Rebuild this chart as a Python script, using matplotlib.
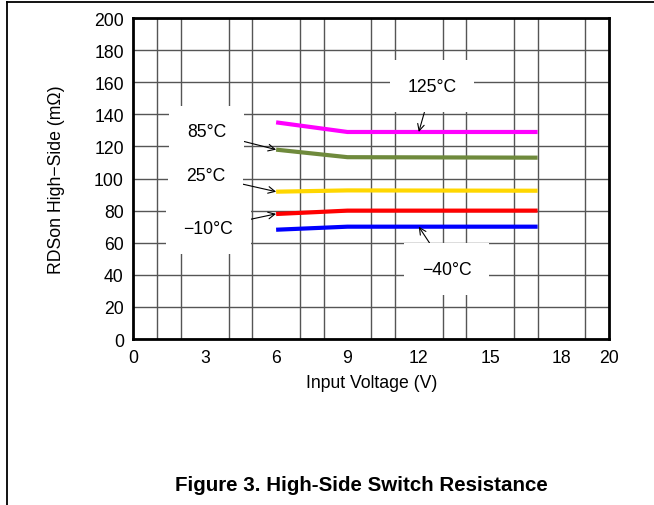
import matplotlib
matplotlib.use('Agg')
import matplotlib.pyplot as plt
from matplotlib.lines import Line2D

plt.rcParams['font.family'] = ['Liberation Sans', 'DejaVu Sans']

# input voltage (V)
vin = [6, 9, 17]
# RDSon high-side (mOhm) per temperature
r_125 = [135, 129, 129]
r_85 = [118, 113.3, 113]
r_25 = [91.8, 92.6, 92.4]
r_m10 = [77.9, 80, 80]
r_m40 = [68.1, 70, 70]

colors = ['#ff00ff', '#6f8a3c', '#ffd700', '#ff0000', '#0000ff']
temps = ['125°C', '85°C', '25°C', '\u221210°C', '\u221240°C']
# label text position and arrow tip (data units)
label_xy = [(12.55, 157.5), (3.08, 129), (3.04, 101.7), (3.15, 69), (13.18, 43.6)]
arrow_xy = [(12.0, 129), (6.0, 118), (6.0, 91.8), (6.0, 78), (12.0, 70)]

fig = plt.figure(figsize=(6.54, 5.06), dpi=100)
ax = fig.add_axes([0.2041, 0.328, 0.727, 0.6344])

series = [r_125, r_85, r_25, r_m10, r_m40]
for r, c in zip(series, colors):
    ax.plot(vin, r, color=c, lw=3, solid_capstyle='butt', zorder=3)

for t, pos, tip in zip(temps, label_xy, arrow_xy):
    ax.annotate(t, xy=tip, xytext=pos, ha='center', va='center', fontsize=12.7,
                bbox=dict(boxstyle='square,pad=1.0', fc='white', ec='none'),
                arrowprops=dict(arrowstyle='->', color='black', lw=0.8,
                                mutation_scale=12, shrinkA=0, shrinkB=0),
                zorder=4)

ax.set_xlim(0, 20)
ax.set_ylim(0, 200)
ax.set_xticks([0, 3, 6, 9, 12, 15, 18, 20])
ax.set_xticks(range(21), minor=True)
ax.set_yticks(range(0, 201, 20))
ax.grid(which='minor', axis='x', color='#555555', lw=1)
ax.grid(which='major', axis='y', color='#555555', lw=1)
ax.set_axisbelow(True)
ax.tick_params(which='both', length=0, labelsize=12.7, pad=7)
for s in ax.spines.values():
    s.set_linewidth(2)

ax.set_xlabel('Input Voltage (V)', fontsize=12.7, labelpad=6)
ax.set_ylabel('RDSon High\u2212Side (m\u03a9)', fontsize=12.7, labelpad=21)

fig.text(0.552, 0.04, 'Figure 3. High-Side Switch Resistance', ha='center',
         va='center', fontsize=14.8, fontweight='bold')

# page frame (top and left edges)
fig.add_artist(Line2D([7 / 654, 1], [1 - 3 / 506, 1 - 3 / 506], color='black', lw=1.3,
                      transform=fig.transFigure))
fig.add_artist(Line2D([7 / 654, 7 / 654], [0, 1 - 3 / 506], color='black', lw=1.3,
                      transform=fig.transFigure))

fig.savefig('out.png', dpi=100)
